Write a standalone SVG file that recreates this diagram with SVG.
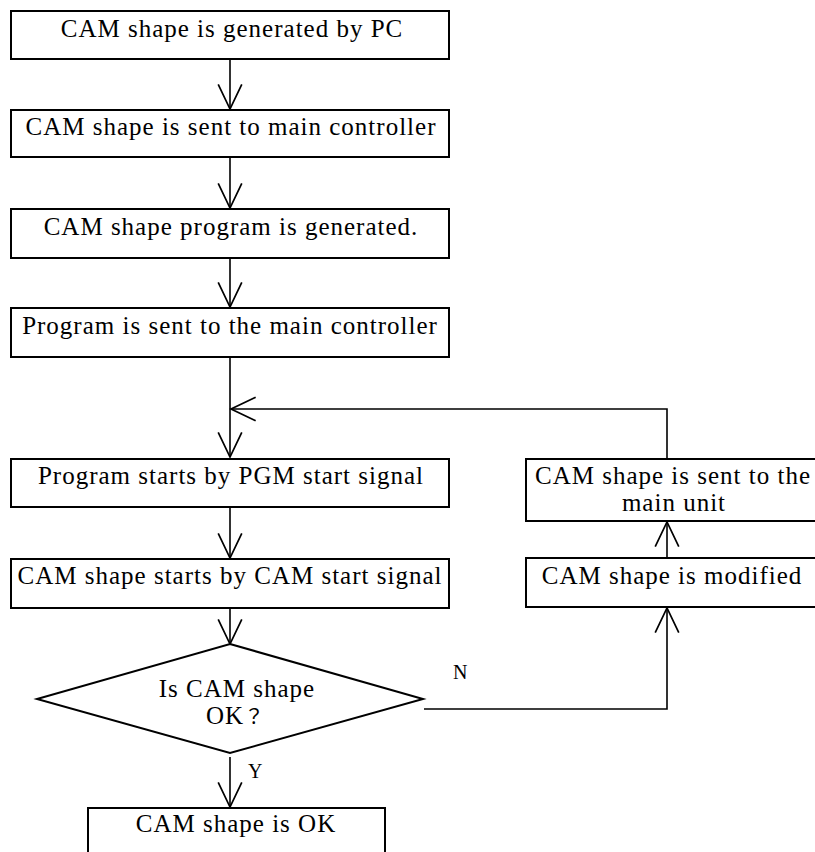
<svg xmlns="http://www.w3.org/2000/svg" width="815" height="852" viewBox="0 0 815 852">
<style>
.box{fill:#fff;stroke:#000;stroke-width:2}
.t{font-family:"Liberation Serif",serif;font-size:25px;letter-spacing:1px;fill:#000;text-anchor:middle}
.q{font-family:"Noto Sans CJK JP",sans-serif;font-size:20px;letter-spacing:0}
.s{font-family:"Liberation Serif",serif;font-size:20px;fill:#000}
.ln{fill:none;stroke:#000;stroke-width:1.6}
</style>
<defs>
<marker id="ah" markerUnits="userSpaceOnUse" markerWidth="30" markerHeight="30" viewBox="-26 -13 28 26" refX="0" refY="0" orient="auto" overflow="visible">
<path d="M-23,-11 L0,0 L-23,11" fill="none" stroke="#000" stroke-width="1.6"/>
</marker>
</defs>
<g id="connectors">
<line class="ln" x1="230" y1="59" x2="230" y2="109" marker-end="url(#ah)"/>
<line class="ln" x1="230" y1="157" x2="230" y2="208" marker-end="url(#ah)"/>
<line class="ln" x1="230" y1="258" x2="230" y2="307" marker-end="url(#ah)"/>
<line class="ln" x1="230" y1="357" x2="230" y2="457" marker-end="url(#ah)"/>
<line class="ln" x1="230" y1="507" x2="230" y2="558" marker-end="url(#ah)"/>
<line class="ln" x1="230" y1="608" x2="230" y2="644" marker-end="url(#ah)"/>
<line class="ln" x1="230" y1="757" x2="230" y2="807" marker-end="url(#ah)"/>
<polyline class="ln" points="424,709 667,709 667,608" marker-end="url(#ah)"/>
<line class="ln" x1="667" y1="558" x2="667" y2="522" marker-end="url(#ah)"/>
<polyline class="ln" points="667,459 667,409 231,409" marker-end="url(#ah)"/>
<text class="s" x="453" y="679">N</text>
<text class="s" x="248" y="778">Y</text>
</g>
<g id="n1"><rect class="box" x="11" y="11" width="438" height="48"/><text class="t" x="232" y="37">CAM shape is generated by PC</text></g>
<g id="n2"><rect class="box" x="11" y="110" width="438" height="47"/><text class="t" x="231" y="135">CAM shape is sent to main controller</text></g>
<g id="n3"><rect class="box" x="11" y="209" width="438" height="49"/><text class="t" x="231" y="235">CAM shape program is generated.</text></g>
<g id="n4"><rect class="box" x="11" y="308" width="438" height="49"/><text class="t" x="230" y="334">Program is sent to the main controller</text></g>
<g id="n5"><rect class="box" x="11" y="459" width="438" height="48"/><text class="t" x="231" y="484">Program starts by PGM start signal</text></g>
<g id="n6"><rect class="box" x="11" y="559" width="438" height="49"/><text class="t" x="230" y="584">CAM shape starts by CAM start signal</text></g>
<g id="n7"><polygon class="box" points="230,644 423,699 230,753 37,699"/><text class="t" x="237" y="697">Is CAM shape</text><text class="t" x="235" y="724">OK<tspan class="q">？</tspan></text></g>
<g id="n8"><rect class="box" x="88" y="808" width="297" height="60"/><text class="t" x="236" y="832">CAM shape is OK</text></g>
<g id="n9"><rect class="box" x="526" y="459" width="300" height="62"/><text class="t" x="673" y="484">CAM shape is sent to the</text><text class="t" x="674" y="511">main unit</text></g>
<g id="n10"><rect class="box" x="526" y="558" width="300" height="49"/><text class="t" x="672" y="584">CAM shape is modified</text></g>
</svg>
